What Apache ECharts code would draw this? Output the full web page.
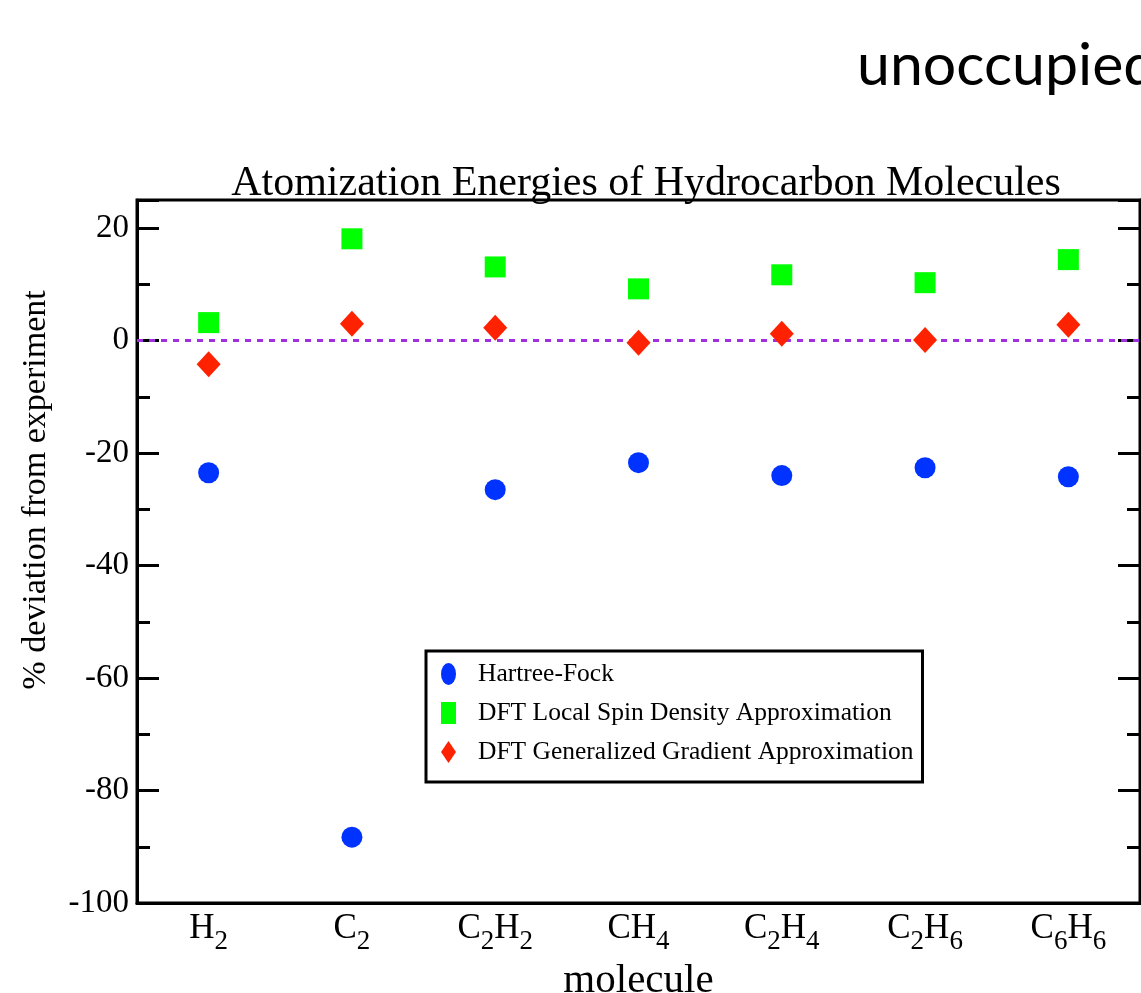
<!DOCTYPE html>
<html>
<head>
<meta charset="utf-8">
<script src="https://cdn.jsdelivr.net/npm/echarts@6/dist/echarts.min.js"></script>
<style>
html,body{margin:0;padding:0;background:#fff;}
#chart{width:1141px;height:993px;}
</style>
</head>
<body>
<div id="chart"></div>
<script>
// Molecules: alternating [base, subscript, base, subscript]
var molecules = [
  ['H','2'],
  ['C','2'],
  ['C','2','H','2'],
  ['CH','4'],
  ['C','2','H','4'],
  ['C','2','H','6'],
  ['C','6','H','6']
];
var categories = ['H2','C2','C2H2','CH4','C2H4','C2H6','C6H6'];
var hartreeFock = [-23.5, -88.3, -26.5, -21.7, -24.0, -22.6, -24.2];
var lsda = [3.2, 18.1, 13.1, 9.2, 11.7, 10.3, 14.4];
var gga = [-4.2, 3.0, 2.3, -0.4, 1.2, 0.1, 2.8];
var seriesNames = ['Hartree-Fock', 'DFT Local Spin Density Approximation', 'DFT Generalized Gradient Approximation'];
var yMin = -100, yMax = 25, yInterval = 20;

var serif = '"Liberation Serif", "DejaVu Serif", serif';

function richLabel(idx) {
  var parts = molecules[idx];
  var s = '';
  for (var i = 0; i < parts.length; i++) {
    s += (i % 2 === 0 ? '{b|' : '{s|') + parts[i] + '}';
  }
  return s;
}

var chart = echarts.init(document.getElementById('chart'));
chart.setOption({
  animation: false,
  backgroundColor: '#fff',
  title: {
    text: 'Atomization Energies of Hydrocarbon Molecules',
    left: 641, top: 158, textAlign: 'center',
    textStyle: {fontFamily: serif, fontWeight: 'normal', fontSize: 42, color: '#000'}
  },
  graphic: [
    {type: 'text', left: 857, top: 36, style: {text: 'unoccupied', font: '59px Lato', fill: '#000'}},
    {type: 'text', x: 36, y: 490, rotation: Math.PI / 2,
     style: {text: '% deviation from experiment', font: '34px "Liberation Serif"', fill: '#000',
             textAlign: 'center', textVerticalAlign: 'middle'}}
  ],
  grid: {left: 137, top: 200, right: 1, bottom: 90, show: true, borderColor: '#000', borderWidth: 3,
         backgroundColor: 'transparent', outerBoundsMode: 'none', containLabel: false},
  legend: {
    orient: 'vertical', left: 426, top: 651,
    borderColor: '#000', borderWidth: 3, borderRadius: 0,
    padding: [7, 9, 14, 15], itemGap: 7,
    itemWidth: 15, itemHeight: 22, symbolKeepAspect: false,
    formatter: function (n) { return '{t|' + n + '}'; },
    textStyle: {fontFamily: serif, fontSize: 25.5, color: '#000', lineHeight: 32,
      rich: {t: {fontFamily: serif, fontSize: 25.5, color: '#000', lineHeight: 32, padding: [0, 0, 0, 17]}}},
    data: [
      {name: seriesNames[0], icon: 'path://M0,-1A1,1 0 1,1 0,1A1,1 0 1,1 0,-1Z'},
      {name: seriesNames[1], icon: 'rect'},
      {name: seriesNames[2], icon: 'diamond'}
    ]
  },
  xAxis: {
    type: 'category', data: categories, boundaryGap: true,
    axisLine: {onZero: false, lineStyle: {color: '#000', width: 3}},
    axisTick: {show: false},
    axisLabel: {
      margin: 6,
      formatter: function (v, i) { return richLabel(i); },
      rich: {
        b: {fontFamily: serif, fontSize: 35, color: '#000', lineHeight: 40},
        s: {fontFamily: serif, fontSize: 27, color: '#000', lineHeight: 40, padding: [26, 0, 0, 0]}
      }
    },
    name: 'molecule', nameLocation: 'middle', nameGap: 48,
    nameTextStyle: {fontFamily: serif, fontSize: 41, color: '#000'}
  },
  yAxis: [{
    type: 'value', min: yMin, max: yMax, interval: yInterval,
    axisLine: {show: true, onZero: false, lineStyle: {color: '#000', width: 3}},
    axisTick: {show: true, inside: true, length: 22, lineStyle: {color: '#000', width: 3}},
    minorTick: {show: true, splitNumber: 2, length: 13, lineStyle: {color: '#000', width: 3}},
    splitLine: {show: false},
    axisLabel: {fontFamily: serif, fontSize: 33, color: '#000', margin: 8,
      formatter: function (v) { return v > 20 ? '' : String(v); }}
  }, {
    type: 'value', min: yMin, max: yMax, interval: yInterval, position: 'right',
    axisLine: {show: true, onZero: false, lineStyle: {color: '#000', width: 3}},
    axisTick: {show: true, inside: true, length: 22, lineStyle: {color: '#000', width: 3}},
    minorTick: {show: true, splitNumber: 2, length: 13, lineStyle: {color: '#000', width: 3}},
    splitLine: {show: false},
    axisLabel: {show: false}
  }],
  series: [
    {name: seriesNames[0], type: 'scatter', data: hartreeFock, symbol: 'circle', symbolSize: 21,
     itemStyle: {color: '#0033ff', opacity: 1}, z: 5},
    {name: seriesNames[1], type: 'scatter', data: lsda, symbol: 'rect', symbolSize: 21,
     itemStyle: {color: '#00ff00', opacity: 1}, z: 5},
    {name: seriesNames[2], type: 'scatter', data: gga, symbol: 'diamond', symbolSize: [24, 26],
     itemStyle: {color: '#ff2200', opacity: 1}, z: 5,
     markLine: {silent: true, symbol: 'none', label: {show: false}, z: 3,
       lineStyle: {color: '#a030e0', type: [6, 6], width: 3}, data: [{yAxis: 0}]}}
  ]
});
</script>
</body>
</html>
